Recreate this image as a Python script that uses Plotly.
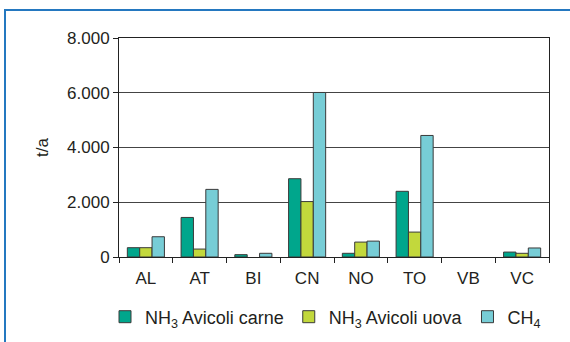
import plotly.graph_objects as go

# Province codes and annual emissions (t/a)
provinces = ["AL", "AT", "BI", "CN", "NO", "TO", "VB", "VC"]
nh3_carne = [340, 1445, 85, 2860, 135, 2400, 0, 180]
nh3_uova = [340, 290, 0, 2025, 545, 910, 0, 135]
ch4 = [740, 2470, 135, 6010, 580, 4440, 0, 330]

y_ticks = [0, 2000, 4000, 6000, 8000]

series = [
    ("NH<sub>3</sub> Avicoli carne", nh3_carne, "#00a68c"),
    ("NH<sub>3</sub> Avicoli uova", nh3_uova, "#c2d83c"),
    ("CH<sub>4</sub>", ch4, "#77cdd6"),
]

fig = go.Figure()
for name, vals, color in series:
    fig.add_trace(go.Bar(
        x=provinces, y=vals, name=name,
        marker=dict(
            color=color,
            # no outline on empty bars so they do not leave a stroke on the axis
            line=dict(color="#3a3a3a", width=[0 if v == 0 else 1 for v in vals]),
        ),
    ))

font_family = "Liberation Sans, Arial, sans-serif"
text_color = "#231f20"
W, H = 570, 342
L, R, T, B = 119, 21, 38, 85
plot_w = W - L - R
plot_h = H - T - B

fig.update_layout(
    width=W, height=H,
    margin=dict(l=L, r=R, t=T, b=B, autoexpand=False),
    paper_bgcolor="white", plot_bgcolor="white",
    barmode="group", bargap=0.31, bargroupgap=0,
    separators=",.",
    font=dict(family=font_family, size=17, color=text_color),
    showlegend=True,
    legend=dict(
        orientation="h",
        x=(105 - L) / plot_w, xanchor="left",
        y=(H - B - 317) / plot_h, yanchor="middle",
        font=dict(size=18, color=text_color),
        tracegroupgap=0, itemwidth=30,
        bgcolor="rgba(0,0,0,0)",
    ),
    xaxis=dict(
        showline=True, linecolor="#222", linewidth=1, mirror=True,
        ticks="outside", ticklen=5, tickcolor="#222", tickson="boundaries",
        showgrid=False, tickfont=dict(size=17), ticklabelstandoff=6,
    ),
    yaxis=dict(
        range=[0, 8000], tickvals=y_ticks, tickformat=",d",
        showline=True, linecolor="#222", linewidth=1, mirror=True,
        ticks="outside", ticklen=5, tickcolor="#222",
        showgrid=True, gridcolor="#444", gridwidth=1,
        zeroline=False, tickfont=dict(size=17),
        title=dict(text="t/a", font=dict(size=17), standoff=14),
    ),
)

# blue panel frame: left edge at x=5 px, top edge at y=10 px
fig.add_shape(
    type="rect", xref="paper", yref="paper",
    x0=(5 - L) / plot_w, x1=(W + 30 - L) / plot_w,
    y0=(H - B - (H + 30)) / plot_h, y1=(H - B - 10) / plot_h,
    line=dict(color="#2478c0", width=2), layer="below",
)

fig.write_html("out.html")
